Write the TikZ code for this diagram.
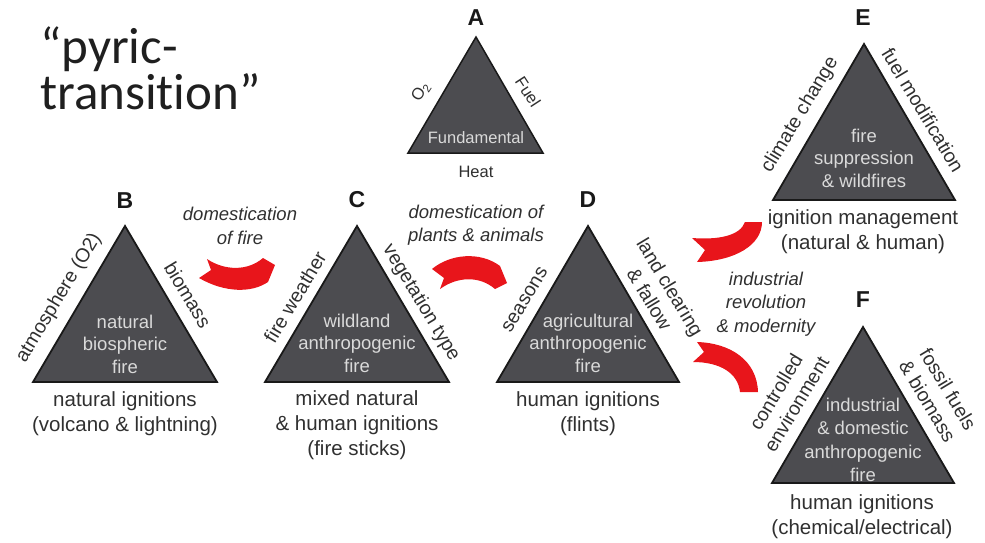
\documentclass[tikz,border=0pt]{standalone}
\usepackage{fontspec}
\setmainfont{Liberation Sans}
\newfontfamily\headfont[RawFeature={-liga;-clig;-calt;-dlig}]{Carlito}
\definecolor{trigray}{HTML}{4C4C50}
\definecolor{innergray}{HTML}{DADADA}
\definecolor{txtgray}{HTML}{303030}
\definecolor{arrowred}{HTML}{E8151B}
\begin{document}
\begin{tikzpicture}[x=1pt,y=-1pt,
  tri/.style={fill=trigray, draw=black!90, line width=1.8pt, line join=miter},
  inner/.style={text=innergray, align=center, inner sep=0pt, font=\fontsize{18.5}{22.5}\selectfont},
  lbl/.style={text=txtgray, align=center, inner sep=0pt, font=\fontsize{20.5}{25}\selectfont},
  side/.style={text=txtgray, align=center, inner sep=0pt, font=\fontsize{19.5}{24}\selectfont},
  small/.style={text=txtgray, align=center, inner sep=0pt, font=\fontsize{16.5}{19}\selectfont},
  letter/.style={inner sep=0pt, font=\fontsize{23}{23}\selectfont\bfseries, text=black!90},
  trans/.style={text=txtgray, align=center, inner sep=0pt, font=\fontsize{18.5}{23.5}\selectfont\itshape},
  redband/.style={fill=arrowred, draw=none},
]
\useasboundingbox (0,0) rectangle (985,543);

% title
\node[anchor=west, align=left, inner sep=0pt, text=black!88,
      font=\headfont\fontsize{51}{46}\selectfont] (title) at (40,68)
  {“pyric-\\transit\kern0pt ion”};

% triangle A: fire triangle
\draw[tri, line width=1.5pt] (408,153) -- (476,37) -- (543,153) -- cycle;
\node[letter] (la) at (476,18) {A};
\node[small, text=innergray] (ia) at (476,138) {Fundamental};
\node[small] (ba) at (476,172) {Heat};
\node[small, rotate=57] (sa1) at (421,92) {O\textsubscript{2}};
\node[small, rotate=-57] (sa2) at (528,92) {Fuel};

% triangle B
\draw[tri] (33,382) -- (125,226) -- (217,382) -- cycle;
\node[letter] (lb) at (125,201) {B};
\node[inner] (ib) at (125,344) {natural\\biospheric\\fire};
\node[lbl] (bb) at (125,414) {natural ignitions\\(volcano \& lightning)};
\node[side, rotate=59] (sb1) at (59,298) {atmosphere (O2)};
\node[side, rotate=-59] (sb2) at (188,295) {biomass};

% triangle C
\draw[tri] (265,382) -- (357,226) -- (449,382) -- cycle;
\node[letter] (lc) at (357,200) {C};
\node[inner] (ic) at (357,343) {wildland\\anthropogenic\\fire};
\node[lbl] (bc) at (357,425) {mixed natural\\\& human ignitions\\(fire sticks)};
\node[side, rotate=59] (sc1) at (295,297) {fire weather};
\node[side, rotate=-59] (sc2) at (421,303) {vegetation type};

% triangle D
\draw[tri] (497,382) -- (588,226) -- (679,382) -- cycle;
\node[letter] (ld) at (588,200) {D};
\node[inner] (id) at (588,343) {agricultural\\anthropogenic\\fire};
\node[lbl] (bd) at (588,414) {human ignitions\\(flints)};
\node[side, rotate=59] (sd1) at (525,300) {seasons};
\node[side, rotate=-59] (sd2) at (660,293) {land clearing\\\& fallow};

% triangle E
\draw[tri] (773,200) -- (864,44) -- (955,200) -- cycle;
\node[letter] (le) at (863,18) {E};
\node[inner] (ie) at (864,158) {fire\\suppression\\\& wildfires};
\node[lbl] (be) at (863,232) {ignition management\\(natural \& human)};
\node[side, rotate=59] (se1) at (800,115) {climate change};
\node[side, rotate=-59] (se2) at (923,110) {fuel modification};

% triangle F
\draw[tri] (772,483) -- (863,327) -- (954,483) -- cycle;
\node[letter] (lf) at (863,300) {F};
\node[inner, font=\fontsize{18.5}{23.3}\selectfont] (if) at (863,440) {industrial\\\& domestic\\anthropogenic\\fire};
\node[lbl] (bf) at (862,517) {human ignitions\\(chemical/electrical)};
\node[side, rotate=59] (sf1) at (786,398) {controlled\\environment};
\node[side, rotate=-59] (sf2) at (938,395) {fossil fuels\\\& biomass};

% transition captions
\node[trans] (t1) at (240,226) {domestication\\of fire};
\node[trans] (t2) at (476,225) {domestication of\\plants \& animals};
\node[trans] (t3) at (766,304) {industrial\\revolution\\\& modernity};

% red ribbon arrows with notched tails
\fill[redband] (207,259) .. controls (225,271) and (248,271) .. (263,258)
  -- (275,265) -- (268,282)
  .. controls (252,293) and (225,293) .. (199,278) -- (211,270) -- cycle;
\fill[redband] (432,269) .. controls (450,254) and (480,251) .. (500,266)
  -- (507,283) -- (495,289)
  .. controls (480,276) and (458,276) .. (440,289) -- (444,278) -- cycle;
\fill[redband] (692,238) .. controls (718,240) and (740,236) .. (745,222)
  -- (762,222)
  .. controls (762,245) and (735,261) .. (697,262) -- (705,250) -- cycle;
\fill[redband] (697,342) .. controls (730,343) and (757,360) .. (758,392)
  -- (740,392)
  .. controls (738,373) and (720,362) .. (693,362) -- (704,352) -- cycle;
\end{tikzpicture}
\end{document}
